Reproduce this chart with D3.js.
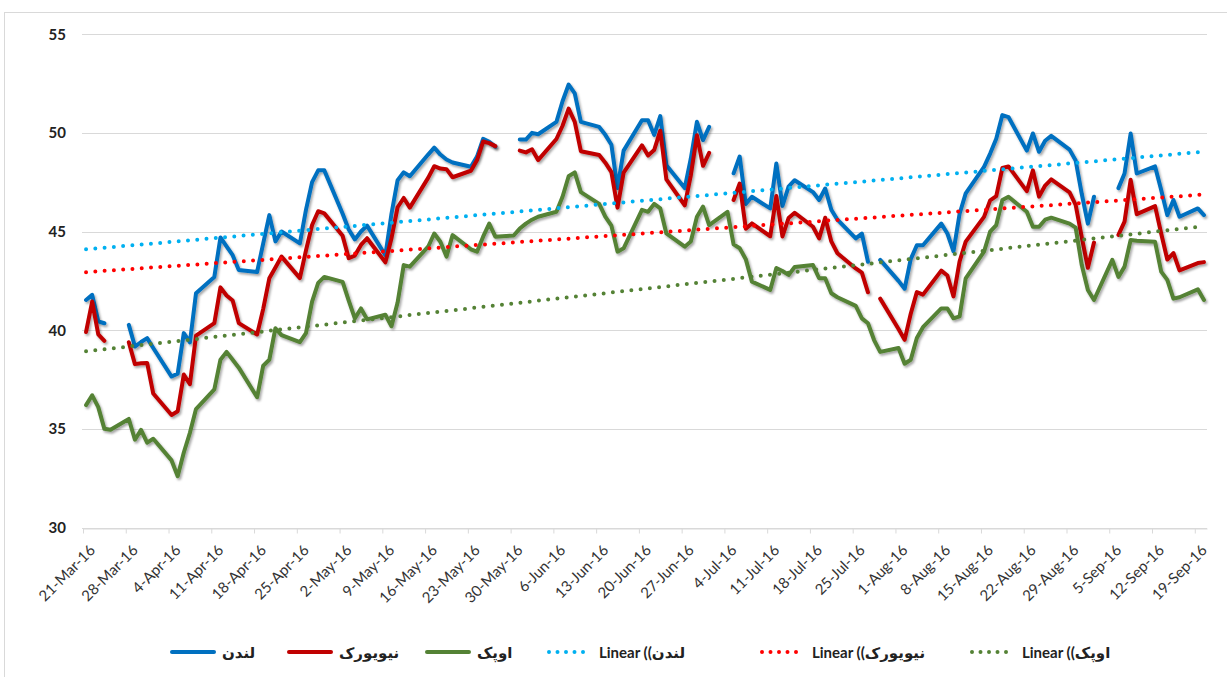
<!DOCTYPE html>
<html>
<head>
<meta charset="utf-8">
<script src="https://cdn.jsdelivr.net/npm/d3@7"></script>
<style>
    html, body { margin: 0; padding: 0; background: #fff; }
    svg { display: block; }
</style>
</head>
<body>
<div id="chart"></div>
<script>
// Trading days shown on the chart (blank price = market closed)
const tradingDays = [
    "2016-03-21","2016-03-22","2016-03-23","2016-03-24","2016-03-25",
    "2016-03-28","2016-03-29","2016-03-30","2016-03-31","2016-04-01",
    "2016-04-04","2016-04-05","2016-04-06","2016-04-07","2016-04-08",
    "2016-04-11","2016-04-12","2016-04-13","2016-04-14","2016-04-15",
    "2016-04-18","2016-04-19","2016-04-20","2016-04-21","2016-04-22",
    "2016-04-25","2016-04-26","2016-04-27","2016-04-28","2016-04-29",
    "2016-05-02","2016-05-03","2016-05-04","2016-05-05","2016-05-06",
    "2016-05-09","2016-05-10","2016-05-11","2016-05-12","2016-05-13",
    "2016-05-16","2016-05-17","2016-05-18","2016-05-19","2016-05-20",
    "2016-05-23","2016-05-24","2016-05-25","2016-05-26","2016-05-27",
    "2016-05-30","2016-05-31","2016-06-01","2016-06-02","2016-06-03",
    "2016-06-06","2016-06-07","2016-06-08","2016-06-09","2016-06-10",
    "2016-06-13","2016-06-14","2016-06-15","2016-06-16","2016-06-17",
    "2016-06-20","2016-06-21","2016-06-22","2016-06-23","2016-06-24",
    "2016-06-27","2016-06-28","2016-06-29","2016-06-30","2016-07-01",
    "2016-07-04","2016-07-05","2016-07-06","2016-07-07","2016-07-08",
    "2016-07-11","2016-07-12","2016-07-13","2016-07-14","2016-07-15",
    "2016-07-18","2016-07-19","2016-07-20","2016-07-21","2016-07-22",
    "2016-07-25","2016-07-26","2016-07-27","2016-07-28","2016-07-29",
    "2016-08-01","2016-08-02","2016-08-03","2016-08-04","2016-08-05",
    "2016-08-08","2016-08-09","2016-08-10","2016-08-11","2016-08-12",
    "2016-08-15","2016-08-16","2016-08-17","2016-08-18","2016-08-19",
    "2016-08-22","2016-08-23","2016-08-24","2016-08-25","2016-08-26",
    "2016-08-29","2016-08-30","2016-08-31","2016-09-01","2016-09-02",
    "2016-09-05","2016-09-06","2016-09-07","2016-09-08","2016-09-09",
    "2016-09-12","2016-09-13","2016-09-14","2016-09-15","2016-09-16",
    "2016-09-19","2016-09-20"
];

// London (Brent)
const london = [
    41.53, 41.79, 40.45, 40.35, null,
    40.27, 39.17, 39.4, 39.6, 39.1,
    37.65, 37.8, 39.85, 39.38, 41.87,
    42.7, 44.7, 44.25, 43.8, 43.05,
    42.95, 44.4, 45.83, 44.5, 45.0,
    44.4, 46.1, 47.5, 48.1, 48.1,
    45.9, 45.1, 44.6, 45.0, 45.3,
    43.8, 45.9, 47.6, 48.0, 47.8,
    48.9, 49.25, 48.9, 48.65, 48.5,
    48.28, 48.8, 49.7, 49.55, 49.3,
    null, 49.66, 49.66, 50.0, 49.93,
    50.56, 51.6, 52.45, 52.0, 50.56,
    50.3, 49.9, 49.4, 47.2, 49.1,
    50.64, 50.64, 49.9, 50.85, 48.36,
    47.2, 48.7, 50.56, 49.63, 50.3,
    null, 47.95, 48.8, 46.4, 46.76,
    46.17, 48.45, 46.3, 47.27, 47.6,
    47.0, 46.6, 47.18, 46.1, 45.6,
    44.65, 44.9, 43.47, null, 43.56,
    42.5, 42.1, 43.6, 44.3, 44.3,
    45.4, 44.9, 44.0, 45.9, 46.93,
    48.28, 48.95, 49.7, 50.9, 50.8,
    49.1, 49.97, 49.04, 49.6, 49.85,
    49.15, 48.6, 46.9, 45.4, 46.76,
    null, 47.2, 47.94, 49.97, 47.94,
    48.3, 47.1, 45.83, 46.6, 45.75,
    46.17, 45.83
];

// New York (WTI)
const newYork = [
    39.91, 41.45, 39.79, 39.46, null,
    39.39, 38.28, 38.32, 38.34, 36.79,
    35.70, 35.89, 37.75, 37.26, 39.72,
    40.36, 42.17, 41.76, 41.50, 40.36,
    39.78, 41.08, 42.63, 43.18, 43.73,
    42.64, 44.04, 45.33, 46.03, 45.92,
    44.78, 43.65, 43.78, 44.32, 44.66,
    43.44, 44.66, 46.23, 46.70, 46.21,
    47.72, 48.31, 48.19, 48.16, 47.75,
    48.08, 48.62, 49.56, 49.48, 49.33,
    null, 49.10, 49.01, 49.17, 48.62,
    49.69, 50.36, 51.23, 50.56, 49.07,
    48.88, 48.49, 48.01, 46.21, 47.98,
    49.37, 48.85, 49.13, 50.11, 47.64,
    46.33, 47.85, 49.88, 48.33, 48.99,
    null, 46.60, 47.43, 45.14, 45.41,
    44.76, 46.80, 44.75, 45.68, 45.95,
    45.24, 44.65, 45.7, 44.5, 43.9,
    43.13, 42.92, 41.92, null, 41.60,
    40.06, 39.51, 40.83, 41.93, 41.80,
    43.02, 42.77, 41.71, 43.49, 44.49,
    45.74, 46.58, 46.79, 48.22, 48.3,
    47.05, 48.10, 46.77, 47.33, 47.64,
    46.98, 46.35, 44.70, 43.16, 44.44,
    null, 44.83, 45.50, 47.62, 45.88,
    46.29, 44.90, 43.58, 43.91, 43.03,
    43.40, 43.45
];

// OPEC basket
const opec = [
    36.2, 36.7, 36.1, 35.0, 34.95,
    35.5, 34.45, 34.95, 34.3, 34.5,
    33.4, 32.6, 33.8, 34.8, 36.0,
    37.0, 38.5, 38.9, 38.5, 38.1,
    36.6, 38.2, 38.5, 40.1, 39.75,
    39.4, 39.85, 41.45, 42.4, 42.7,
    42.45, 41.5, 40.6, 41.1, 40.55,
    40.78, 40.2, 41.4, 43.3, 43.22,
    44.23, 44.9, 44.48, 43.73, 44.82,
    44.1, 43.98, 44.74, 45.4, 44.74,
    44.8, 45.15, 45.4, 45.6, 45.75,
    46.0, 46.76, 47.8, 48.0, 47.0,
    46.4, 45.75, 45.3, 43.98, 44.15,
    46.1, 46.0, 46.4, 46.17, 44.9,
    44.23, 44.49, 45.75, 46.26, 45.33,
    46.0, 44.35, 44.15, 43.6, 42.46,
    42.04, 43.15, 43.0, 42.8, 43.2,
    43.3, 42.63, 42.63, 41.87, 41.67,
    41.23, 40.6, 40.35, 39.5, 38.9,
    39.1, 38.3, 38.5, 39.6, 40.15,
    41.1, 41.1, 40.6, 40.7, 42.63,
    43.98, 45.0, 45.33, 46.6, 46.76,
    46.0, 45.24, 45.24, 45.6, 45.7,
    45.4, 45.2, 43.3, 42.04, 41.53,
    43.56, 42.7, 43.22, 44.57, 44.53,
    44.48, 42.97, 42.55, 41.6, 41.67,
    42.07, 41.53
];

const yTicks = [30, 35, 40, 45, 50, 55];
// series names as Excel shows them (the last letter of نیویورک is drawn detached)
const seriesNames = ["لندن", "نیویور\u200Cک", "اوپک"];

// Global configuration
const config = {
    width: 1227,
    height: 677,
    plot: { left: 83, right: 1207, top: 34.2, bottom: 527.5 },
    axisStart: "2016-03-21",
    axisEnd: "2016-09-21",
    colors: ["#0070C0", "#C00000", "#548235"],
    trendColors: ["#00B0F0", "#FF0000", "#548235"],
    legendY: 652,
    legendX: [170, 287, 425, 547, 760, 970]
};

const parseDay = d3.utcParse("%Y-%m-%d");
const days = tradingDays.map(parseDay);
const midDay = d => d3.utcHour.offset(d, 12); // points sit in the middle of each day slot

const x = d3.scaleUtc()
    .domain([parseDay(config.axisStart), parseDay(config.axisEnd)])
    .range([config.plot.left, config.plot.right]);

const y = d3.scaleLinear()
    .domain([30, 55])
    .range([config.plot.bottom, config.plot.top]);

const svg = d3.select("#chart").append("svg")
    .attr("width", config.width)
    .attr("height", config.height);

// Drop shadow like the Excel line effect
const defs = svg.append("defs");
defs.append("filter")
    .attr("id", "shadow")
    .attr("filterUnits", "userSpaceOnUse")
    .attr("x", 0).attr("y", 0)
    .attr("width", config.width).attr("height", config.height)
    .append("feDropShadow")
    .attr("dx", 1.5).attr("dy", 2)
    .attr("stdDeviation", 1.3)
    .attr("flood-color", "#000")
    .attr("flood-opacity", 0.35);

// Chart frame
svg.append("rect")
    .attr("x", 4.5).attr("y", 12.5)
    .attr("width", config.width + 20).attr("height", config.height + 20)
    .attr("fill", "none")
    .attr("stroke", "#d9d9d9");

// Horizontal gridlines
svg.append("g")
    .selectAll("line")
    .data(yTicks)
    .join("line")
    .attr("x1", config.plot.left - 1)
    .attr("x2", config.plot.right)
    .attr("y1", d => Math.round(y(d)) + 0.5)
    .attr("y2", d => Math.round(y(d)) + 0.5)
    .attr("stroke", "#d9d9d9")
    .attr("stroke-width", 1);

// Y axis labels
svg.append("g")
    .selectAll("text")
    .data(yTicks)
    .join("text")
    .attr("x", 66)
    .attr("y", d => y(d) + 5.5)
    .attr("text-anchor", "end")
    .attr("font-family", "Lato, 'Open Sans', sans-serif")
    .attr("font-weight", "bold")
    .attr("font-size", 15)
    .attr("fill", "#222")
    .text(d => d);

// X axis: weekly ticks on Mondays
const weekTicks = d3.utcMonday.range(parseDay(config.axisStart), parseDay(config.axisEnd));
const xAxis = d3.axisBottom(x)
    .tickValues(weekTicks)
    .tickSize(5)
    .tickSizeOuter(0)
    .tickFormat(d3.utcFormat("%-d-%b-%y"));

const xAxisGroup = svg.append("g")
    .attr("transform", `translate(0,${Math.round(y(30)) + 0.5})`)
    .call(xAxis);

xAxisGroup.select(".domain").attr("stroke", "#d9d9d9");
xAxisGroup.selectAll(".tick line").attr("stroke", "#d9d9d9");
xAxisGroup.selectAll(".tick text")
    .attr("font-family", "Lato, 'Open Sans', sans-serif")
    .attr("font-size", 15)
    .attr("fill", "#333")
    .attr("text-anchor", "end")
    .attr("dy", 0)
    .attr("transform", "translate(7,17) rotate(-45)");

// Series
const seriesValues = [london, newYork, opec];
const series = seriesValues.map((vals, i) => ({
    name: seriesNames[i],
    color: config.colors[i],
    trendColor: config.trendColors[i],
    points: days.map((d, j) => ({ date: midDay(d), value: vals[j] }))
}));

const line = d3.line()
    .defined(d => d.value !== null)
    .x(d => x(d.date))
    .y(d => y(d.value));

// Linear trend (least squares on date vs value), drawn like Excel's trendline
function trendOf(points) {
    const valid = points.filter(p => p.value !== null);
    const xs = valid.map(p => +p.date);
    const mx = d3.mean(xs);
    const my = d3.mean(valid, p => p.value);
    let sxy = 0, sxx = 0;
    valid.forEach(p => {
        sxy += (+p.date - mx) * (p.value - my);
        sxx += (+p.date - mx) ** 2;
    });
    const slope = sxy / sxx;
    const ends = [valid[0].date, valid[valid.length - 1].date];
    return ends.map(dt => ({ date: dt, value: my + slope * (+dt - mx) }));
}

const lineLayer = svg.append("g");
const trendLayer = svg.append("g");

series.forEach(s => {
    lineLayer.append("path")
        .datum(s.points)
        .attr("d", line)
        .attr("fill", "none")
        .attr("stroke", s.color)
        .attr("stroke-width", 4)
        .attr("stroke-linejoin", "round")
        .attr("stroke-linecap", "round")
        .attr("filter", "url(#shadow)");
});

series.forEach(s => {
    trendLayer.append("path")
        .datum(trendOf(s.points))
        .attr("d", line)
        .attr("fill", "none")
        .attr("stroke", s.trendColor)
        .attr("stroke-width", 4)
        .attr("stroke-linecap", "round")
        .attr("stroke-dasharray", "0 9.3");
});

// Legend (trend names are laid out the way Excel draws them: closing bracket kept with the Persian name)
const legendItems = [
    ...series.map(s => ({ label: s.name, color: s.color, dotted: false })),
    ...series.map(s => ({ label: `Linear (\u2067${s.name})\u2069`, color: s.trendColor, dotted: true }))
];

const legend = svg.append("g");
legendItems.forEach((item, i) => {
    const g = legend.append("g")
        .attr("transform", `translate(${config.legendX[i]},${config.legendY})`);
    g.append("line")
        .attr("x1", 2).attr("x2", 44)
        .attr("stroke", item.color)
        .attr("stroke-width", 4)
        .attr("stroke-linecap", "round")
        .attr("stroke-dasharray", item.dotted ? "0 8.5" : null);
    g.append("text")
        .attr("x", 52)
        .attr("y", 5.5)
        .attr("font-family", "Lato, 'DejaVu Sans', sans-serif")
        .attr("font-weight", "bold")
        .attr("font-size", 15)
        .attr("fill", "#222")
        .text(item.label);
});
</script>
</body>
</html>
